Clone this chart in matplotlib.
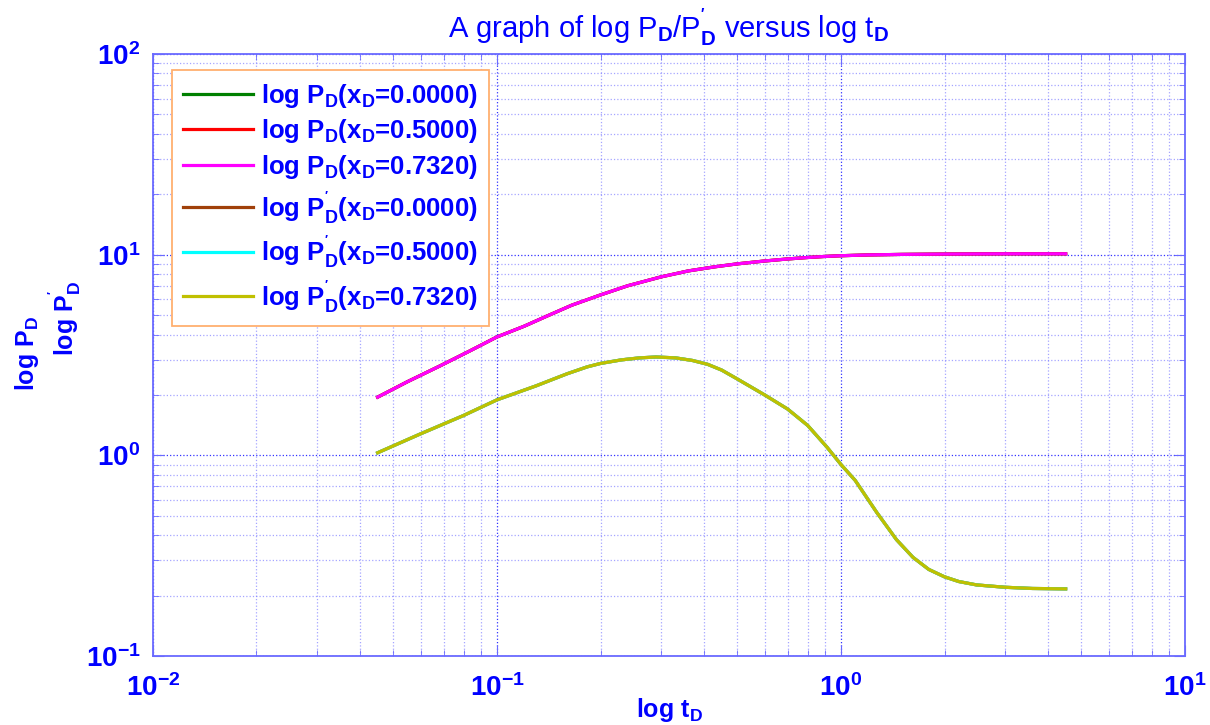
import numpy as np
import matplotlib.pyplot as plt

plt.rcParams['font.family'] = ['Liberation Sans', 'DejaVu Sans']
plt.rcParams['font.weight'] = 'bold'
plt.rcParams['axes.unicode_minus'] = False
plt.rcParams['mathtext.fontset'] = 'custom'
plt.rcParams['mathtext.rm'] = 'Liberation Sans:bold'
plt.rcParams['mathtext.it'] = 'Liberation Sans:bold'
plt.rcParams['mathtext.bf'] = 'Liberation Sans:bold'

# values
t_pd = [0.045, 0.055, 0.068, 0.083, 0.1, 0.12, 0.14, 0.165, 0.2, 0.24, 0.3, 0.36,
        0.43, 0.5, 0.6, 0.7, 0.8, 0.9, 1.0, 1.2, 1.5, 2.0, 3.0, 4.5]
p_d = [1.95, 2.33, 2.78, 3.3, 3.89, 4.4, 4.95, 5.6, 6.3, 7.0, 7.75, 8.3,
       8.7, 9.0, 9.3, 9.52, 9.68, 9.8, 9.88, 9.97, 10.03, 10.07, 10.1, 10.1]
t_pdp = [0.045, 0.06, 0.08, 0.1, 0.13, 0.16, 0.183, 0.2, 0.23, 0.26, 0.29, 0.33,
         0.37, 0.41, 0.45, 0.5, 0.6, 0.7, 0.8, 0.91, 1.0, 1.1, 1.27, 1.45, 1.62,
         1.8, 2.0, 2.2, 2.48, 3.0, 3.6, 4.5]
p_d_prime = [1.03, 1.28, 1.58, 1.89, 2.22, 2.55, 2.76, 2.87, 2.99, 3.06, 3.09, 3.06,
             2.97, 2.84, 2.66, 2.40, 2.0, 1.70, 1.41, 1.10, 0.90, 0.75, 0.52, 0.38, 0.31,
             0.27, 0.248, 0.235, 0.226, 0.22, 0.217, 0.216]
x_d = ['0.0000', '0.5000', '0.7320']
pd_colors = ['#008000', '#ff0000', '#ff00ff']
pdp_colors = ['#a0400a', '#00ffff', '#c0c000']

blue = '#0000ff'
axis_blue = '#6a6aff'

fig = plt.figure(figsize=(12.1, 7.25), dpi=100)
ax = fig.add_axes([0.1264, 0.0952, 0.8529, 0.8303])

for xd, c in zip(x_d, pd_colors):
    ax.plot(t_pd, p_d, color=c, lw=2.3, label=r'log P$_D$(x$_D$=' + xd + ')')
for xd, c in zip(x_d, pdp_colors):
    ax.plot(t_pdp, p_d_prime, color=c, lw=2.3, label=r"log P$^{'}_D$(x$_D$=" + xd + ')')

ax.set_xscale('log')
ax.set_yscale('log')
ax.set_xlim(1e-2, 1e1)
ax.set_ylim(1e-1, 1e2)

ax.grid(True, which='major', linestyle=':', color=blue, lw=0.9, alpha=0.8)
ax.grid(True, which='minor', linestyle=':', color=axis_blue, lw=0.9, alpha=0.6)

for s in ax.spines.values():
    s.set_color(axis_blue)
    s.set_linewidth(1.3)
ax.tick_params(which='both', direction='in', top=True, right=True, colors=axis_blue,
               labelcolor=blue, labelsize=20)
ax.tick_params(which='major', length=8)
ax.tick_params(which='minor', length=4)
ax.tick_params(axis='x', pad=13)
ax.tick_params(axis='y', pad=9)

ax.set_title(r"A graph of log P$_D$/P$^{'}_D$ versus log t$_D$", color=blue,
             fontsize=21, fontweight='normal', pad=12)
ax.set_xlabel(r'log t$_D$', color=blue, fontsize=18, fontweight='bold', labelpad=-4)
ax.text(-0.122, 0.502, r'log P$_D$', transform=ax.transAxes, rotation=90,
        ha='center', va='center', color=blue, fontsize=18, fontweight='bold')
ax.text(-0.086, 0.561, r"log P$^{'}_D$", transform=ax.transAxes, rotation=90,
        ha='center', va='center', color=blue, fontsize=18, fontweight='bold')

leg = ax.legend(loc='upper left', bbox_to_anchor=(0.0184, 0.9734), fontsize=18.5,
                handlelength=2.7, handletextpad=0.3, labelspacing=0.3,
                borderpad=0.45, borderaxespad=0.0,
                fancybox=False, framealpha=1.0, edgecolor='#ffb070')
leg.get_frame().set_linewidth(1.3)
for txt in leg.get_texts():
    txt.set_color(blue)

fig.savefig('out.png', dpi=100)
